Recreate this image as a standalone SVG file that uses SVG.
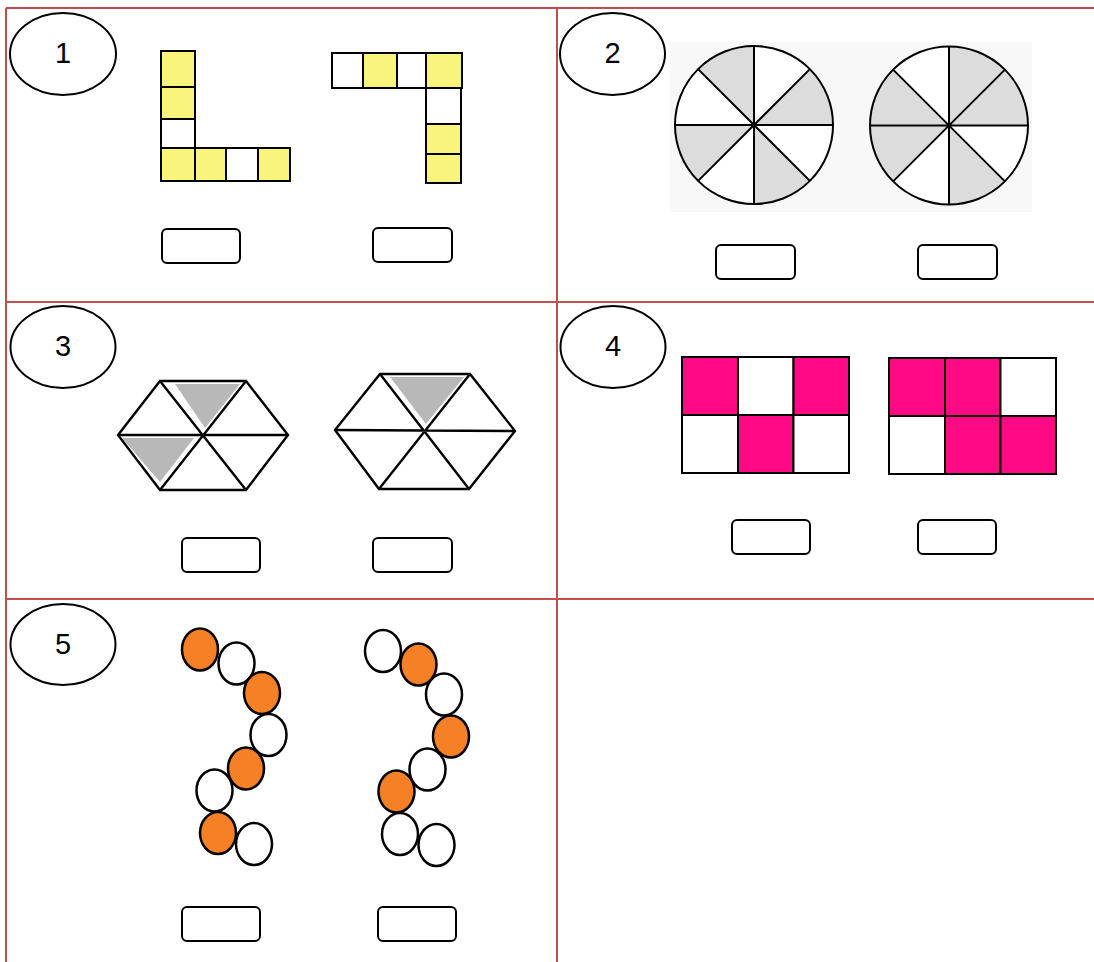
<svg xmlns="http://www.w3.org/2000/svg" width="1094" height="962" viewBox="0 0 1094 962">
<style>
.grid{stroke:#c0504d;stroke-width:2;fill:none}
.lbl{fill:#fff;stroke:#000;stroke-width:2}
.num{font-family:"Liberation Sans",Arial,sans-serif;font-size:29px;fill:#000;text-anchor:middle}
.box{fill:#fff;stroke:#000;stroke-width:2}
.sq{stroke:#000;stroke-width:2}
.y{fill:#f9f47c}
.w{fill:#fff}
.p{fill:#ff0a84}
.o{fill:#f58025;stroke:#000;stroke-width:2.5}
.ow{fill:#fff;stroke:#000;stroke-width:2.5}
.ln{stroke:#000;stroke-width:2;fill:none}
.hx{stroke:#000;stroke-width:2.4;fill:none}
.sh{fill:#dcdcdc}
.tri{fill:#b8b8b8}
</style>
<rect width="1094" height="962" fill="#fff"/>
<g id="table">
<line class="grid" x1="6" y1="8" x2="1094" y2="8"/>
<line class="grid" x1="6" y1="302" x2="1094" y2="302"/>
<line class="grid" x1="6" y1="599" x2="1094" y2="599"/>
<line class="grid" x1="6" y1="8" x2="6" y2="962"/>
<line class="grid" x1="557" y1="8" x2="557" y2="962"/>
</g>

<g id="cell1">
<ellipse class="lbl" cx="63" cy="54" rx="53" ry="41"/>
<text class="num" x="63" y="63">1</text>
<g id="shapeL">
<rect class="sq y" x="161" y="51" width="34" height="36"/>
<rect class="sq y" x="161" y="87" width="34" height="32"/>
<rect class="sq w" x="161" y="119" width="34" height="29"/>
<rect class="sq y" x="161" y="148" width="34" height="33"/>
<rect class="sq y" x="195" y="148" width="31" height="33"/>
<rect class="sq w" x="226" y="148" width="32" height="33"/>
<rect class="sq y" x="258" y="148" width="32" height="33"/>
</g>
<g id="shapeR">
<rect class="sq w" x="332" y="53" width="31" height="35"/>
<rect class="sq y" x="363" y="53" width="34" height="35"/>
<rect class="sq w" x="397" y="53" width="29" height="35"/>
<rect class="sq y" x="426" y="53" width="36" height="35"/>
<rect class="sq w" x="426" y="88" width="35" height="36"/>
<rect class="sq y" x="426" y="124" width="35" height="30"/>
<rect class="sq y" x="426" y="154" width="35" height="29"/>
</g>
<rect class="box" x="162" y="229" width="78" height="34" rx="5"/>
<rect class="box" x="373" y="228" width="79" height="34" rx="5"/>
</g>

<g id="cell2">
<ellipse class="lbl" cx="612.5" cy="54" rx="52.5" ry="41"/>
<text class="num" x="612.5" y="63">2</text>
<rect x="670" y="42" width="362" height="170" fill="#f8f8f8"/>
<g id="circle1">
<circle cx="754" cy="125" r="79" fill="#fff"/>
<path class="sh" d="M754 125 L833 125 A79 79 0 0 0 809.9 69.1 Z"/>
<path class="sh" d="M754 125 L754 46 A79 79 0 0 0 698.1 69.1 Z"/>
<path class="sh" d="M754 125 L675 125 A79 79 0 0 0 698.1 180.9 Z"/>
<path class="sh" d="M754 125 L754 204 A79 79 0 0 0 809.9 180.9 Z"/>
<circle class="ln" cx="754" cy="125" r="79"/>
<path class="ln" d="M675 125 H833 M754 46 V204 M698.1 69.1 L809.9 180.9 M809.9 69.1 L698.1 180.9"/>
</g>
<g id="circle2">
<circle cx="949" cy="125.5" r="79" fill="#fff"/>
<path class="sh" d="M949 125.5 L1028 125.5 A79 79 0 0 0 949 46.5 Z"/>
<path class="sh" d="M949 125.5 L893.1 69.6 A79 79 0 0 0 893.1 181.4 Z"/>
<path class="sh" d="M949 125.5 L949 204.5 A79 79 0 0 0 1004.9 181.4 Z"/>
<circle class="ln" cx="949" cy="125.5" r="79"/>
<path class="ln" d="M870 125.5 H1028 M949 46.5 V204.5 M893.1 69.6 L1004.9 181.4 M1004.9 69.6 L893.1 181.4"/>
</g>
<rect class="box" x="716" y="245" width="79" height="34" rx="5"/>
<rect class="box" x="918" y="245" width="79" height="34" rx="5"/>
</g>

<g id="cell3">
<ellipse class="lbl" cx="63" cy="347" rx="52.5" ry="41"/>
<text class="num" x="63" y="356">3</text>
<g id="hex1">
<polygon points="175,384 240,384 205,428" class="tri"/>
<polygon points="122,438 194,438 160,482" class="tri"/>
<polygon class="hx" points="160,381 246,381 288,435 246,490 160,490 118,435"/>
<path class="hx" d="M118 435 H288 M160 381 L246 490 M246 381 L160 490"/>
</g>
<g id="hex2">
<polygon points="390,377 464,377 426,424" class="tri"/>
<polygon class="hx" points="380,374 470,374 515,431 469,489 379,489 335,430"/>
<path class="hx" d="M335 430 L515 431 M380 374 L469 489 M470 374 L379 489"/>
</g>
<rect class="box" x="182" y="538" width="78" height="34" rx="5"/>
<rect class="box" x="373" y="538" width="79" height="34" rx="5"/>
</g>

<g id="cell4">
<ellipse class="lbl" cx="613" cy="347" rx="52.5" ry="41"/>
<text class="num" x="613" y="356">4</text>
<g id="grid1">
<rect class="sq p" x="682" y="357" width="56" height="58"/>
<rect class="sq w" x="738" y="357" width="55.5" height="58"/>
<rect class="sq p" x="793.5" y="357" width="55.5" height="58"/>
<rect class="sq w" x="682" y="415" width="56" height="58"/>
<rect class="sq p" x="738" y="415" width="55.5" height="58"/>
<rect class="sq w" x="793.5" y="415" width="55.5" height="58"/>
</g>
<g id="grid2">
<rect class="sq p" x="889" y="358" width="56" height="58"/>
<rect class="sq p" x="945" y="358" width="55.5" height="58"/>
<rect class="sq w" x="1000.5" y="358" width="55.5" height="58"/>
<rect class="sq w" x="889" y="416" width="56" height="58"/>
<rect class="sq p" x="945" y="416" width="55.5" height="58"/>
<rect class="sq p" x="1000.5" y="416" width="55.5" height="58"/>
</g>
<rect class="box" x="732" y="520" width="78" height="34" rx="5"/>
<rect class="box" x="918" y="520" width="78" height="34" rx="5"/>
</g>

<g id="cell5">
<ellipse class="lbl" cx="63" cy="644.5" rx="52.5" ry="40.5"/>
<text class="num" x="63" y="654">5</text>
<g id="chain1">
<ellipse class="o" cx="200" cy="649.5" rx="18" ry="21"/>
<ellipse class="ow" cx="236.5" cy="663.5" rx="18" ry="21"/>
<ellipse class="o" cx="262" cy="693" rx="18" ry="21"/>
<ellipse class="ow" cx="268.5" cy="735" rx="18" ry="21"/>
<ellipse class="o" cx="246" cy="768.5" rx="18" ry="21"/>
<ellipse class="ow" cx="214.5" cy="790.5" rx="18" ry="21"/>
<ellipse class="o" cx="218" cy="833" rx="18" ry="21"/>
<ellipse class="ow" cx="254" cy="844" rx="18" ry="21"/>
</g>
<g id="chain2">
<ellipse class="ow" cx="383" cy="651" rx="18" ry="21"/>
<ellipse class="o" cx="418.5" cy="664.5" rx="18" ry="21"/>
<ellipse class="ow" cx="444" cy="694.5" rx="18" ry="21"/>
<ellipse class="o" cx="451" cy="736.5" rx="18" ry="21"/>
<ellipse class="ow" cx="427.5" cy="769.5" rx="18" ry="21"/>
<ellipse class="o" cx="396.5" cy="791.5" rx="18" ry="21"/>
<ellipse class="ow" cx="400" cy="834" rx="18" ry="21"/>
<ellipse class="ow" cx="436.5" cy="845" rx="18" ry="21"/>
</g>
<rect class="box" x="182" y="907" width="78" height="34" rx="5"/>
<rect class="box" x="378" y="907" width="78" height="34" rx="5"/>
</g>
</svg>
